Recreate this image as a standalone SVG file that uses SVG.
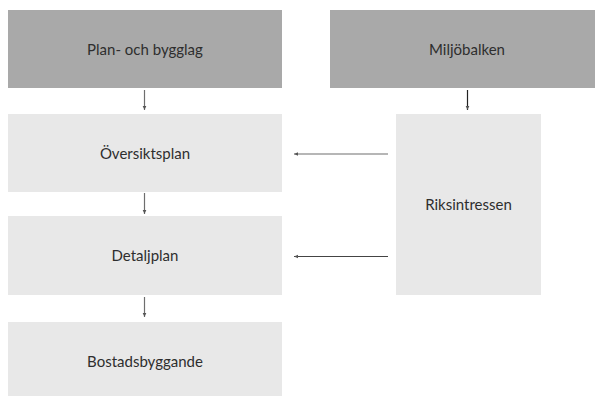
<svg xmlns="http://www.w3.org/2000/svg" width="595" height="396" viewBox="0 0 595 396">
<style>
.dark{fill:#a9a9a9}
.light{fill:#e8e8e8}
.lbl{font-family:Lato,"Liberation Sans",sans-serif;font-size:15px;fill:#2e2e2e;text-anchor:middle}
.con{fill:none;stroke:#6e6e6e;stroke-width:1.2}
</style>
<defs>
<marker id="ah" markerUnits="userSpaceOnUse" markerWidth="6" markerHeight="6" refX="4" refY="3" orient="auto">
<path d="M0,1.2 L4,3 L0,4.8 Z" fill="#555"/>
</marker>
</defs>
<rect width="595" height="396" fill="#fff"/>
<g id="plan-och-bygglag"><rect class="dark" x="8" y="10" width="274" height="78"/><text class="lbl" x="145" y="54.5">Plan- och bygglag</text></g>
<g id="miljobalken"><rect class="dark" x="330" y="10" width="274" height="78"/><text class="lbl" x="467" y="54.5">Miljöbalken</text></g>
<g id="oversiktsplan"><rect class="light" x="8" y="114" width="274" height="78"/><text class="lbl" x="145" y="158.5">Översiktsplan</text></g>
<g id="detaljplan"><rect class="light" x="8" y="216" width="274" height="79"/><text class="lbl" x="145" y="261">Detaljplan</text></g>
<g id="bostadsbyggande"><rect class="light" x="8" y="322" width="274" height="78"/><text class="lbl" x="145" y="366.5">Bostadsbyggande</text></g>
<g id="riksintressen"><rect class="light" x="396" y="114" width="145" height="181"/><text class="lbl" x="468.5" y="210">Riksintressen</text></g>
<g id="connectors">
<line class="con" x1="144.5" y1="90" x2="144.5" y2="110" marker-end="url(#ah)"/>
<line class="con" x1="144.5" y1="193" x2="144.5" y2="214" marker-end="url(#ah)"/>
<line class="con" x1="144.5" y1="297" x2="144.5" y2="317" marker-end="url(#ah)"/>
<line class="con" x1="467.5" y1="90" x2="467.5" y2="110" style="stroke:#222" marker-end="url(#ah)"/>
<line class="con" x1="388" y1="154" x2="294" y2="154" marker-end="url(#ah)"/>
<line class="con" x1="388" y1="256.5" x2="294" y2="256.5" style="stroke:#444" marker-end="url(#ah)"/>
</g>
</svg>
